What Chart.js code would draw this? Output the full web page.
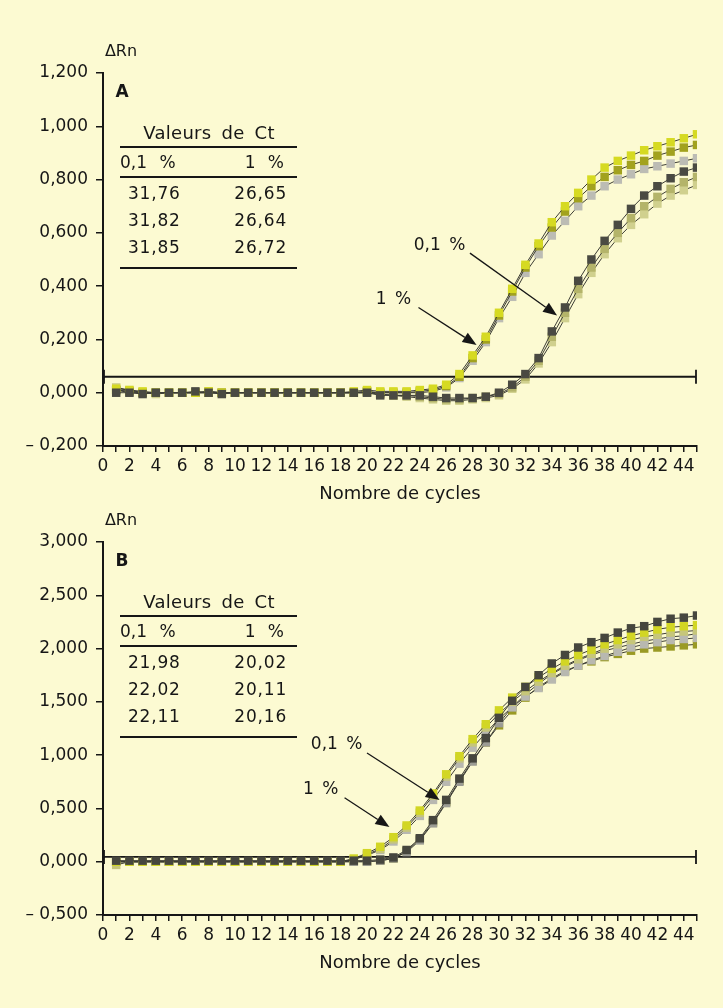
<!DOCTYPE html>
<html>
<head>
<meta charset="utf-8">
<script src="https://cdn.jsdelivr.net/npm/chart.js@4.4.1/dist/chart.umd.min.js"></script>
<style>
    html, body { margin: 0; padding: 0; background: #fcfad2; }
    #wrapA { position: absolute; left: 0; top: 0; width: 723px; height: 505px; }
    #wrapB { position: absolute; left: 0; top: 505px; width: 723px; height: 503px; }
</style>
</head>
<body>
<div id="wrapA"><canvas id="chartA" width="723" height="505"></canvas></div>
<div id="wrapB"><canvas id="chartB" width="723" height="503"></canvas></div>
<script>
// cycles 1..45
var cycles = [1, 2, 3, 4, 5, 6, 7, 8, 9, 10, 11, 12, 13, 14, 15, 16, 17, 18, 19, 20,
    21, 22, 23, 24, 25, 26, 27, 28, 29, 30, 31, 32, 33, 34, 35, 36, 37, 38, 39, 40,
    41, 42, 43, 44, 45];

// --- panel A ---
var aDark = [0, 0, -0.005, 0, 0, 0, 0.005, 0, -0.005, 0,
    0, 0, 0, 0, 0, 0, 0, 0, 0, 0,
    -0.01, -0.01, -0.01, -0.01, -0.015, -0.02, -0.02, -0.02, -0.015, 0,
    0.03, 0.07, 0.13, 0.23, 0.32, 0.42, 0.50, 0.57, 0.63, 0.69,
    0.74, 0.775, 0.805, 0.83, 0.845];
var aPale1 = [0.01, 0.005, 0, 0, 0, 0, 0, 0.005, 0, 0,
    0, 0, 0, 0, 0, 0, 0, 0, 0, 0.005,
    -0.005, -0.01, -0.01, -0.015, -0.02, -0.025, -0.025, -0.02, -0.015, -0.005,
    0.02, 0.06, 0.12, 0.21, 0.30, 0.39, 0.47, 0.54, 0.60, 0.655,
    0.70, 0.735, 0.765, 0.79, 0.81];
var aPale2 = [0.02, 0.01, 0, -0.005, 0, 0, 0, 0, 0, 0,
    0, 0, 0, 0, 0, 0, 0, 0, 0, 0,
    -0.005, -0.01, -0.015, -0.02, -0.025, -0.03, -0.03, -0.025, -0.02, -0.01,
    0.015, 0.05, 0.11, 0.19, 0.28, 0.37, 0.45, 0.52, 0.58, 0.63,
    0.67, 0.71, 0.74, 0.76, 0.78];
var aYellow = [0.015, 0.01, 0.005, 0, 0, 0, 0, 0.005, 0, 0,
    0, 0, 0, 0, 0, 0, 0, 0, 0.005, 0.01,
    0.005, 0.005, 0.005, 0.01, 0.015, 0.03, 0.07, 0.14, 0.21, 0.30,
    0.39, 0.48, 0.56, 0.64, 0.70, 0.75, 0.80, 0.845, 0.87, 0.89,
    0.91, 0.925, 0.94, 0.955, 0.97];
var aOlive = [0.01, 0.005, 0, 0, 0, 0, 0, 0, 0, 0,
    0, 0, 0, 0, 0, 0, 0, 0, 0, 0.005,
    0, 0, 0, 0.005, 0.01, 0.025, 0.06, 0.13, 0.20, 0.29,
    0.38, 0.47, 0.55, 0.62, 0.68, 0.73, 0.775, 0.81, 0.835, 0.855,
    0.87, 0.89, 0.905, 0.92, 0.93];
var aGray = [0.01, 0, 0, 0, 0, 0, 0, 0, 0, 0,
    0, 0, 0, 0, 0, 0, 0, 0, 0, 0,
    0, 0, 0, 0, 0.005, 0.02, 0.055, 0.12, 0.19, 0.28,
    0.36, 0.45, 0.52, 0.59, 0.645, 0.70, 0.74, 0.775, 0.80, 0.82,
    0.84, 0.85, 0.86, 0.87, 0.88];

// --- panel B ---
var bDark = [0.01, 0.01, 0.01, 0.01, 0.01, 0.01, 0.01, 0.01, 0.01, 0.01,
    0.01, 0.01, 0.01, 0.01, 0.01, 0.01, 0.01, 0.01, 0.01, 0.01,
    0.02, 0.04, 0.11, 0.22, 0.39, 0.58, 0.78, 0.97, 1.16, 1.35,
    1.51, 1.64, 1.75, 1.86, 1.94, 2.01, 2.06, 2.10, 2.15, 2.19,
    2.21, 2.25, 2.28, 2.29, 2.31];
var bGray = [0, 0, 0, 0, 0, 0, 0, 0, 0, 0,
    0, 0, 0, 0, 0, 0, 0, 0, 0, 0,
    0.01, 0.03, 0.09, 0.20, 0.36, 0.55, 0.75, 0.94, 1.12, 1.30,
    1.45, 1.57, 1.67, 1.76, 1.83, 1.89, 1.94, 1.98, 2.01, 2.04,
    2.07, 2.09, 2.11, 2.12, 2.14];
var bOlive = [0, 0, 0, 0, 0, 0, 0, 0, 0, 0,
    0, 0, 0, 0, 0, 0, 0, 0, 0, 0,
    0.01, 0.03, 0.10, 0.21, 0.37, 0.56, 0.76, 0.95, 1.12, 1.28,
    1.42, 1.54, 1.64, 1.72, 1.79, 1.84, 1.88, 1.92, 1.95, 1.98,
    2.00, 2.01, 2.02, 2.03, 2.04];
var bYellow = [0, 0, 0, 0, 0, 0, 0, 0, 0, 0,
    0, 0, 0, 0, 0, 0, 0, 0, 0.03, 0.08,
    0.14, 0.23, 0.34, 0.48, 0.64, 0.82, 0.99, 1.15, 1.29, 1.42,
    1.54, 1.64, 1.73, 1.81, 1.88, 1.94, 1.99, 2.04, 2.08, 2.12,
    2.15, 2.18, 2.20, 2.21, 2.22];
var bPale = [-0.03, 0, 0, 0, 0, 0, 0, 0, 0, 0,
    0, 0, 0, 0, 0, 0, 0, 0, 0.02, 0.07,
    0.12, 0.21, 0.32, 0.46, 0.62, 0.80, 0.97, 1.12, 1.26, 1.39,
    1.50, 1.60, 1.69, 1.77, 1.84, 1.90, 1.95, 2.00, 2.04, 2.08,
    2.11, 2.13, 2.15, 2.16, 2.17];
var bLightGray = [0, 0, 0, 0, 0, 0, 0, 0, 0, 0,
    0, 0, 0, 0, 0, 0, 0, 0, 0.02, 0.06,
    0.11, 0.19, 0.30, 0.43, 0.58, 0.75, 0.92, 1.07, 1.21, 1.34,
    1.45, 1.55, 1.63, 1.71, 1.78, 1.84, 1.89, 1.93, 1.97, 2.01,
    2.04, 2.06, 2.08, 2.09, 2.10];

// Ct tables
var ctHeaders = ['0,1 %', '1 %'];
var ctA_low = ['31,76', '31,82', '31,85'];
var ctA_high = ['26,65', '26,64', '26,72'];
var ctB_low = ['21,98', '22,02', '22,11'];
var ctB_high = ['20,02', '20,11', '20,16'];

// thresholds
var thresholdA = 0.06;
var thresholdB = 0.045;

// y ticks
var yTicksA = { min: -0.2, max: 1.2, step: 0.2 };
var yTicksB = { min: -0.5, max: 3.0, step: 0.5 };

// arrows in data units: label pos, arrow from, arrow to
var arrowsA = [
    { text: '0,1 %', lx: 25.5, ly: 0.554, x0: 27.8, y0: 0.524, x1: 34.4, y1: 0.29 },
    { text: '1 %', lx: 22.0, ly: 0.348, x0: 23.9, y0: 0.32, x1: 28.3, y1: 0.179 }
];
var arrowsB = [
    { text: '0,1 %', lx: 17.7, ly: 1.095, x0: 20.0, y0: 1.02, x1: 25.5, y1: 0.58 },
    { text: '1 %', lx: 16.5, ly: 0.674, x0: 18.3, y0: 0.60, x1: 21.7, y1: 0.325 }
];

var FONT = '"DejaVu Sans", sans-serif';
var INK = '#161616';

function fmtNum(v) {
    var s = Math.abs(v).toFixed(3).replace('.', ',');
    return v < -1e-9 ? '\u2013 ' + s : s;
}

function toPoints(vals) {
    return cycles.map(function (c, i) { return { x: c, y: vals[i] }; });
}

function series(vals, color) {
    return {
        data: toPoints(vals),
        borderColor: '#3c3c34',
        borderWidth: 1,
        pointStyle: 'rect',
        pointRadius: 6,
        pointBorderWidth: 0,
        pointBackgroundColor: color,
        pointHoverRadius: 6,
        tension: 0,
        fill: false
    };
}

// text with wider word / letter spacing like the scanned figure
function spacedText(ctx, txt, x, y, ws, ls) {
    ctx.wordSpacing = ws + 'px';
    ctx.letterSpacing = ls + 'px';
    ctx.fillText(txt, x, y);
    ctx.wordSpacing = '0px';
    ctx.letterSpacing = '0px';
}

// draws threshold, arrows, Ct table and labels
var overlay = {
    id: 'overlay',
    beforeDatasetsDraw: function (chart, args, opts) {
        var ctx = chart.ctx, xs = chart.scales.x, ys = chart.scales.y;
        var y = ys.getPixelForValue(opts.threshold);
        var xa = xs.getPixelForValue(0), xb = xs.getPixelForValue(45);
        ctx.save();
        ctx.strokeStyle = INK;
        ctx.lineWidth = 1.8;
        ctx.beginPath();
        ctx.moveTo(xa, y); ctx.lineTo(xb - 1, y);
        ctx.moveTo(xa + 1, y - 7); ctx.lineTo(xa + 1, y + 7);
        ctx.moveTo(xb - 1, y - 7); ctx.lineTo(xb - 1, y + 7);
        ctx.stroke();
        ctx.restore();
    },
    afterDatasetsDraw: function (chart, args, opts) {
        var ctx = chart.ctx, xs = chart.scales.x, ys = chart.scales.y;
        ctx.save();
        ctx.fillStyle = INK;
        ctx.strokeStyle = INK;
        ctx.font = '17px ' + FONT;
        ctx.textAlign = 'center';
        ctx.textBaseline = 'middle';
        opts.arrows.forEach(function (a) {
            spacedText(ctx, a.text, xs.getPixelForValue(a.lx), ys.getPixelForValue(a.ly), 3, 0);
            var px0 = xs.getPixelForValue(a.x0), py0 = ys.getPixelForValue(a.y0);
            var px1 = xs.getPixelForValue(a.x1), py1 = ys.getPixelForValue(a.y1);
            var ang = Math.atan2(py1 - py0, px1 - px0);
            var hl = 14, hw = 5.5;
            var bx = px1 - hl * Math.cos(ang), by = py1 - hl * Math.sin(ang);
            ctx.lineWidth = 1.3;
            ctx.beginPath();
            ctx.moveTo(px0, py0); ctx.lineTo(bx, by);
            ctx.stroke();
            ctx.beginPath();
            ctx.moveTo(px1, py1);
            ctx.lineTo(bx + hw * Math.sin(ang), by - hw * Math.cos(ang));
            ctx.lineTo(bx - hw * Math.sin(ang), by + hw * Math.cos(ang));
            ctx.closePath();
            ctx.fill();
        });
        ctx.restore();
    },
    afterDraw: function (chart, args, opts) {
        var ctx = chart.ctx, ca = chart.chartArea;
        var L = ca.left, T = ca.top;
        ctx.save();
        ctx.fillStyle = INK;
        ctx.strokeStyle = INK;
        ctx.textBaseline = 'middle';

        // axis labels
        ctx.font = '16px ' + FONT;
        ctx.textAlign = 'center';
        ctx.fillText('\u0394Rn', L + 18, T - 21);
        ctx.font = '18px ' + FONT;
        ctx.fillText('Nombre de cycles', (ca.left + ca.right) / 2, ca.bottom + 48);

        // panel letter
        ctx.font = 'bold 17px ' + FONT;
        ctx.fillText(opts.letter, L + 19, T + 20);

        // Ct table
        ctx.font = '18px ' + FONT;
        spacedText(ctx, 'Valeurs de Ct', L + 106, T + 61, 4, 0.3);
        ctx.lineWidth = 1.8;
        [74, 104, 195].forEach(function (dy) {
            ctx.beginPath();
            ctx.moveTo(L + 17, T + dy); ctx.lineTo(L + 194, T + dy);
            ctx.stroke();
        });
        ctx.font = '17px ' + FONT;
        ctx.textAlign = 'left';
        spacedText(ctx, ctHeaders[0], L + 17, T + 91, 7, 0);
        ctx.textAlign = 'right';
        spacedText(ctx, ctHeaders[1], L + 181, T + 91, 7, 0);
        var rows = [122, 149, 176];
        for (var i = 0; i < opts.low.length; i++) {
            ctx.textAlign = 'left';
            spacedText(ctx, opts.low[i], L + 25, T + rows[i], 0, 0.8);
            ctx.textAlign = 'right';
            spacedText(ctx, opts.high[i], L + 184, T + rows[i], 0, 0.8);
        }
        ctx.restore();
    }
};

function makeChart(id, sets, yt, padTop, xHeight, extra) {
    return new Chart(document.getElementById(id), {
        type: 'line',
        data: { datasets: sets },
        plugins: [overlay],
        options: {
            responsive: false,
            animation: false,
            events: [],
            layout: { padding: { top: padTop, right: 26, left: 0, bottom: 0 } },
            plugins: {
                legend: { display: false },
                tooltip: { enabled: false },
                overlay: extra
            },
            scales: {
                x: {
                    type: 'linear',
                    min: 0,
                    max: 45,
                    afterFit: function (s) { s.height = xHeight; },
                    border: { display: true, color: INK, width: 2 },
                    grid: { display: true, drawOnChartArea: false, drawTicks: true, tickLength: 6, color: INK, lineWidth: 1.5 },
                    ticks: {
                        stepSize: 1,
                        autoSkip: false,
                        maxRotation: 0,
                        padding: 4,
                        color: INK,
                        font: { family: FONT, size: 17 },
                        callback: function (v) { return (v % 2 === 0 && v <= 44) ? String(v) : ''; }
                    }
                },
                y: {
                    min: yt.min,
                    max: yt.max,
                    afterFit: function (s) { s.width = 103; },
                    border: { display: true, color: INK, width: 2 },
                    grid: { display: true, drawOnChartArea: false, drawTicks: true, tickLength: 7, color: INK, lineWidth: 1.5 },
                    ticks: {
                        stepSize: yt.step,
                        padding: 8,
                        color: INK,
                        font: { family: FONT, size: 17 },
                        callback: function (v) { return fmtNum(v); }
                    }
                }
            }
        }
    });
}

makeChart('chartA', [
    series(aDark, '#4a4a42'),
    series(aYellow, '#d6da22'),
    series(aOlive, '#a2a21e'),
    series(aGray, '#bcbcb4'),
    series(aPale1, '#b4b46a'),
    series(aPale2, '#d0d08e')
], yTicksA, 73, 59, { threshold: thresholdA, arrows: arrowsA, letter: 'A', low: ctA_low, high: ctA_high });

makeChart('chartB', [
    series(bDark, '#46463e'),
    series(bYellow, '#d2d624'),
    series(bPale, '#c6c67a'),
    series(bLightGray, '#b8b8b0'),
    series(bGray, '#9c9c94'),
    series(bOlive, '#9a9a24')
], yTicksB, 37, 93, { threshold: thresholdB, arrows: arrowsB, letter: 'B', low: ctB_low, high: ctB_high });
</script>
</body>
</html>
